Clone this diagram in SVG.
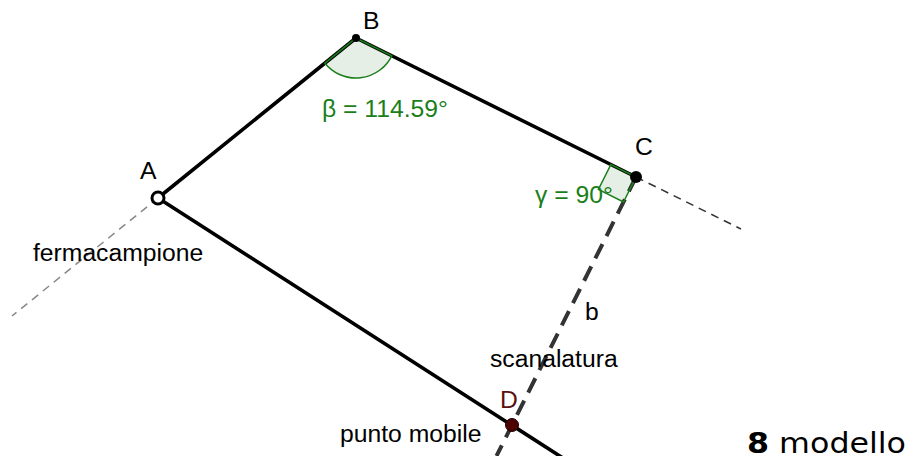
<svg xmlns="http://www.w3.org/2000/svg" width="909" height="456" viewBox="0 0 909 456">
<style>
text{font-family:"Liberation Sans",Arial,sans-serif;font-size:24.7px;fill:#000}
.seg{stroke:#000;stroke-width:3.6;stroke-linecap:round;fill:none}
.ext{stroke:#333;stroke-width:1.5;stroke-dasharray:8,6;fill:none}
.extg{stroke:#888;stroke-width:1.5;stroke-dasharray:8,6;fill:none}
.slot{stroke:#333;stroke-width:4;stroke-dasharray:16,9;fill:none}
.ang{fill:#006400;fill-opacity:0.1;stroke:#1a7f1a;stroke-width:1.5}
.angt{fill:#1a7f1a}
</style>
<rect width="909" height="456" fill="#fff"/>
<g id="connectors">
<line class="extg" x1="158" y1="198" x2="12" y2="316"/>
<line class="ext" x1="636" y1="177" x2="741" y2="229"/>
<line class="slot" x1="636" y1="177" x2="496.5" y2="456"/>
<line class="seg" x1="158" y1="198" x2="356" y2="38"/>
<line class="seg" x1="356" y1="38" x2="636" y2="177"/>
<line class="seg" x1="158" y1="198" x2="566" y2="460"/>
</g>
<g id="angle-beta">
<path class="ang" d="M356,38 L391.8,55.8 A40,40 0 0 1 324.9,63.2 Z"/>
<text class="angt" x="322" y="117">β = 114.59°</text>
</g>
<g id="angle-gamma">
<path class="ang" d="M636,177 L610.9,164.5 L598.4,189.5 L623.5,202 Z"/>
<text class="angt" x="535" y="203">γ = 90°</text>
</g>
<g id="A">
<circle cx="158" cy="198" r="6" fill="#fff" stroke="#000" stroke-width="3"/>
<text x="140" y="179">A</text>
</g>
<g id="B">
<circle cx="356" cy="38" r="4" fill="#000"/>
<text x="363" y="29">B</text>
</g>
<g id="C">
<circle cx="636" cy="177" r="6" fill="#000"/>
<text x="635" y="155">C</text>
</g>
<g id="D">
<circle cx="512" cy="425" r="6.5" fill="#4d0000" stroke="#1a0000" stroke-width="1"/>
<text x="500" y="408" style="fill:#5a1010">D</text>
</g>
<g id="labels">
<text x="33" y="261">fermacampione</text>
<text x="585" y="320">b</text>
<text x="490" y="367">scanalatura</text>
<text x="340" y="442">punto mobile</text>
<text x="747" y="453" textLength="159" lengthAdjust="spacingAndGlyphs" style="font-family:'DejaVu Sans',Verdana,sans-serif;font-size:28px"><tspan font-weight="bold">8</tspan> modello</text>
</g>
</svg>
